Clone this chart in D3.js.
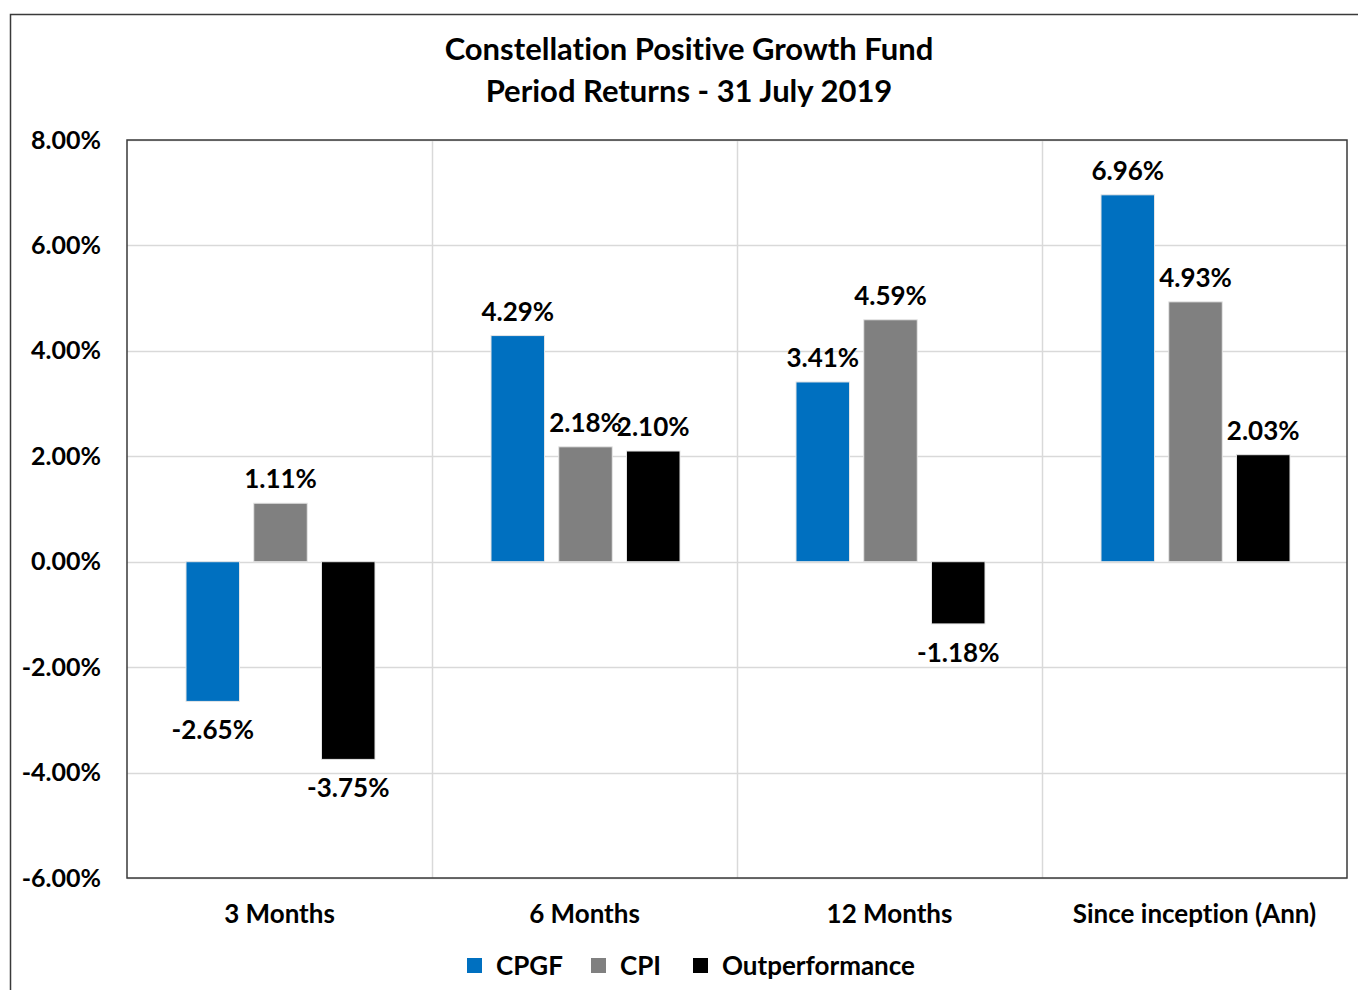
<!DOCTYPE html>
<html>
<head>
<meta charset="utf-8">
<script src="https://cdn.jsdelivr.net/npm/d3@7"></script>
<style>
  body { margin: 0; background: #fff; }
  text { font-family: Lato, "DejaVu Sans", sans-serif; font-weight: bold; fill: #000; font-variant-ligatures: none; }
</style>
</head>
<body>
<svg id="chart" width="1358" height="990"></svg>
<script>
var categories = ['3 Months', '6 Months', '12 Months', 'Since inception (Ann)'],
    seriesNames = ['CPGF', 'CPI', 'Outperformance'],
    cpgf = [-2.65, 4.29, 3.41, 6.96],
    cpi = [1.11, 2.18, 4.59, 4.93],
    outperformance = [-3.75, 2.10, -1.18, 2.03],
    yTicks = [-6, -4, -2, 0, 2, 4, 6, 8],
    titleLines = ['Constellation Positive Growth Fund', 'Period Returns - 31 July 2019'];

var colors = { CPGF: '#0070c0', CPI: '#808080', Outperformance: '#000000' };
var seriesValues = { CPGF: cpgf, CPI: cpi, Outperformance: outperformance };

// plain hyphen for negatives, like the source
var pct = function(d){ return d3.format('.2f')(d).replace('\u2212', '-') + '%'; };

var svg = d3.select('#chart'),
    plot = { left: 127, top: 140, right: 1347, bottom: 878 };

// outer chart frame (runs off right/bottom edge like the source)
svg.append('rect')
    .attr('x', 10.5).attr('y', 14.5)
    .attr('width', 1360).attr('height', 990)
    .attr('fill', 'none').attr('stroke', '#3a3a3a').attr('stroke-width', 1.5);

svg.selectAll('text.title')
    .data(titleLines)
    .enter().append('text')
    .attr('class', 'title')
    .attr('x', 689)
    .attr('y', function(d, i){ return 60 + i * 42; })
    .attr('text-anchor', 'middle')
    .style('font-size', '31px')
    .text(function(d){ return d; });

var x0 = d3.scaleBand().domain(categories).range([plot.left, plot.right]).padding(0);
var x1 = d3.scaleBand().domain(seriesNames)
    .range([59, x0.bandwidth() - 57]).paddingInner(0.21);
var y = d3.scaleLinear().domain([-6, 8]).range([plot.bottom, plot.top]);

// gridlines
svg.append('g').selectAll('line')
    .data(yTicks)
    .enter().append('line')
    .attr('x1', plot.left).attr('x2', plot.right)
    .attr('y1', function(d){ return Math.round(y(d)) + 0.5; })
    .attr('y2', function(d){ return Math.round(y(d)) + 0.5; })
    .attr('stroke', '#d9d9d9').attr('stroke-width', 1.5);

svg.append('g').selectAll('line')
    .data(categories.slice(1))
    .enter().append('line')
    .attr('x1', function(d){ return Math.round(x0(d)) + 0.5; })
    .attr('x2', function(d){ return Math.round(x0(d)) + 0.5; })
    .attr('y1', plot.top).attr('y2', plot.bottom)
    .attr('stroke', '#d9d9d9').attr('stroke-width', 1.5);

// y axis labels
var yAxis = d3.axisLeft(y).tickValues(yTicks).tickSize(0).tickPadding(26).tickFormat(pct);
svg.append('g')
    .attr('transform', 'translate(' + plot.left + ',0)')
    .call(yAxis)
    .call(function(g){ g.select('.domain').remove(); })
    .selectAll('text')
    .style('font-size', '25px')
    .style('font-family', 'Lato, sans-serif')
    .attr('fill', '#000');

// bars
var groups = svg.append('g').selectAll('g')
    .data(categories)
    .enter().append('g')
    .attr('transform', function(d){ return 'translate(' + x0(d) + ',0)'; });

var bars = groups.selectAll('g')
    .data(function(c, i){
        return seriesNames.map(function(s){ return { series: s, value: seriesValues[s][i] }; });
    })
    .enter().append('g');

bars.append('rect')
    .attr('x', function(d){ return x1(d.series); })
    .attr('y', function(d){ return y(Math.max(0, d.value)); })
    .attr('width', x1.bandwidth())
    .attr('height', function(d){ return Math.abs(y(d.value) - y(0)); })
    .attr('fill', function(d){ return colors[d.series]; })
    .attr('stroke', '#e6e6e6').attr('stroke-width', 1);

bars.append('text')
    .attr('x', function(d){ return x1(d.series) + x1.bandwidth() / 2; })
    .attr('y', function(d){ return d.value >= 0 ? y(d.value) - 15 : y(d.value) + 38; })
    .attr('text-anchor', 'middle')
    .style('font-size', '26px')
    .text(function(d){ return pct(d.value); });

// plot border
svg.append('rect')
    .attr('x', plot.left).attr('y', plot.top)
    .attr('width', plot.right - plot.left).attr('height', plot.bottom - plot.top)
    .attr('fill', 'none').attr('stroke', '#3a3a3a').attr('stroke-width', 1.5);

// category labels
var xAxis = d3.axisBottom(x0).tickSize(0).tickPadding(27);
svg.append('g')
    .attr('transform', 'translate(0,' + plot.bottom + ')')
    .call(xAxis)
    .call(function(g){ g.select('.domain').remove(); })
    .selectAll('text')
    .style('font-size', '26px')
    .style('font-family', 'Lato, sans-serif')
    .attr('fill', '#000');

// legend
var legendX = [467, 591, 693];
var legend = svg.append('g').selectAll('g')
    .data(seriesNames)
    .enter().append('g')
    .attr('transform', function(d, i){ return 'translate(' + legendX[i] + ',958)'; });
legend.append('rect')
    .attr('width', 15).attr('height', 15)
    .attr('fill', function(d){ return colors[d]; });
legend.append('text')
    .attr('x', 29).attr('y', 17)
    .style('font-size', '26px')
    .text(function(d){ return d; });
</script>
</body>
</html>
